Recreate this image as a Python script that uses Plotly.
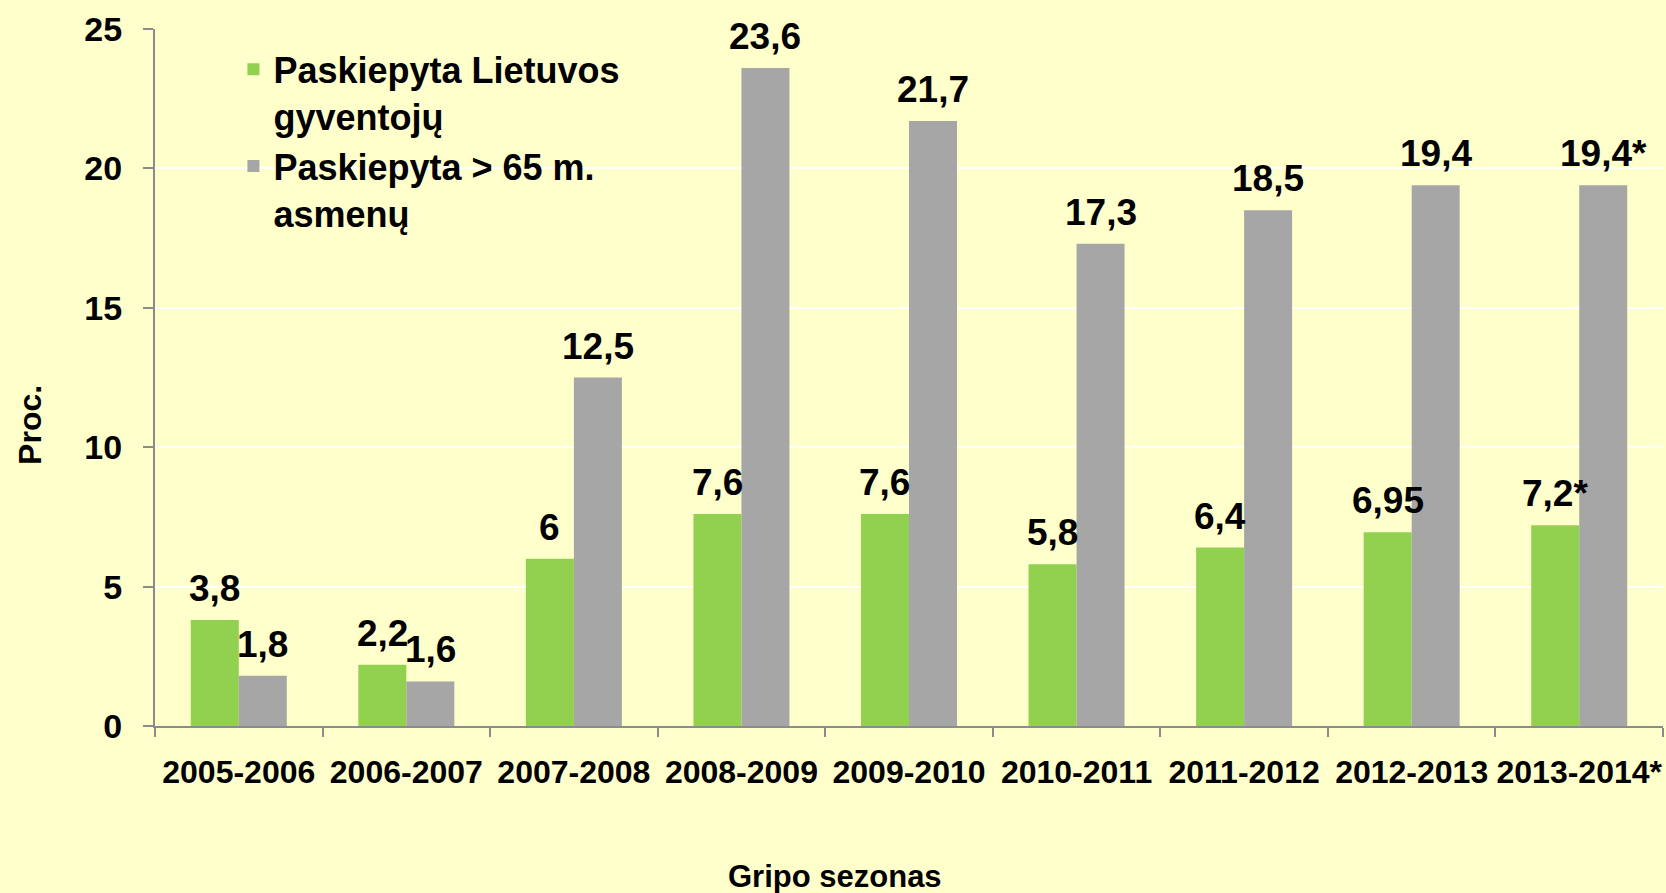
import plotly.graph_objects as go

seasons = ["2005-2006", "2006-2007", "2007-2008", "2008-2009", "2009-2010",
           "2010-2011", "2011-2012", "2012-2013", "2013-2014*"]
all_pop = [3.8, 2.2, 6.0, 7.6, 7.6, 5.8, 6.4, 6.95, 7.2]
over65 = [1.8, 1.6, 12.5, 23.6, 21.7, 17.3, 18.5, 19.4, 19.4]
label_suffix = ["", "", "", "", "", "", "", "", "*"]

series_names = ["Paskiepyta Lietuvos<br>gyventojų", "Paskiepyta > 65 m.<br>asmenų"]
y_title = "Proc."
x_title = "Gripo sezonas"


def fmt(vals):
    return [f"{v:g}".replace(".", ",") + s for v, s in zip(vals, label_suffix)]


FONT = "Liberation Sans, Arial, sans-serif"
GREEN = "#92D050"
GRAY = "#A6A6A6"
BG = "#FFFFCC"
AXIS = "#8C8C8C"
LABEL_FONT = dict(family=FONT, size=37, color="black", weight="bold")

W, H = 1666, 893
ML, MR, MT, MB = 155, 3, 29, 167
BARGAP = 0.427

fig = go.Figure()
fig.add_trace(go.Bar(
    x=seasons, y=all_pop, name=series_names[0],
    marker=dict(color=GREEN, line=dict(width=0)),
))
fig.add_trace(go.Bar(
    x=seasons, y=over65, name=series_names[1],
    marker=dict(color=GRAY, line=dict(width=0)),
))

# value labels (annotations so they sit on top of every bar)
cat_px = (W - ML - MR) / len(seasons)
half_bar = cat_px * (1 - BARGAP) / 4
annotations = []
for vals, sgn in ((all_pop, -1), (over65, 1)):
    for s, v, t in zip(seasons, vals, fmt(vals)):
        annotations.append(dict(
            x=s, y=v, xref="x", yref="y", text=t, showarrow=False,
            xanchor="center", yanchor="bottom", xshift=sgn * half_bar, yshift=9,
            font=LABEL_FONT,
        ))

annotations += [
    dict(text=y_title, xref="paper", yref="paper", x=-0.0829, y=0.432,
         xanchor="center", yanchor="middle", textangle=-90, showarrow=False,
         font=dict(family=FONT, size=32, color="black", weight="bold")),
    dict(text=x_title, xref="paper", yref="paper", x=0.451, y=-0.2166,
         xanchor="center", yanchor="middle", showarrow=False,
         font=dict(family=FONT, size=31, color="black", weight="bold")),
]

fig.update_layout(
    width=W, height=H,
    margin=dict(l=ML, r=MR, t=MT, b=MB, autoexpand=False),
    paper_bgcolor=BG, plot_bgcolor=BG,
    barmode="group", bargap=BARGAP, bargroupgap=0,
    font=dict(family=FONT, color="black"),
    showlegend=True,
    legend=dict(
        x=0.052, y=0.985, xanchor="left", yanchor="top",
        bgcolor="rgba(0,0,0,0)", valign="top",
        font=dict(family=FONT, size=36, color="black", weight="bold"),
        tracegroupgap=0,
    ),
    xaxis=dict(
        automargin=False,
        showline=True, linecolor=AXIS, linewidth=2,
        ticks="outside", tickson="boundaries", ticklen=9, tickcolor=AXIS, tickwidth=2,
        tickangle=0,
        tickfont=dict(family=FONT, size=32, color="black", weight="bold"),
        ticklabelstandoff=17,
        showgrid=False,
    ),
    yaxis=dict(
        automargin=False,
        range=[0, 25], dtick=5,
        showline=True, linecolor=AXIS, linewidth=2,
        ticks="outside", ticklen=10, tickcolor=AXIS, tickwidth=2,
        tickfont=dict(family=FONT, size=34, color="black", weight="bold"),
        ticklabelstandoff=14,
        showgrid=True, gridcolor="white", gridwidth=2,
        zeroline=False,
    ),
    annotations=annotations,
)

fig.write_html("out.html", config={"displayModeBar": False},
               post_script="document.body.style.margin='0';")
